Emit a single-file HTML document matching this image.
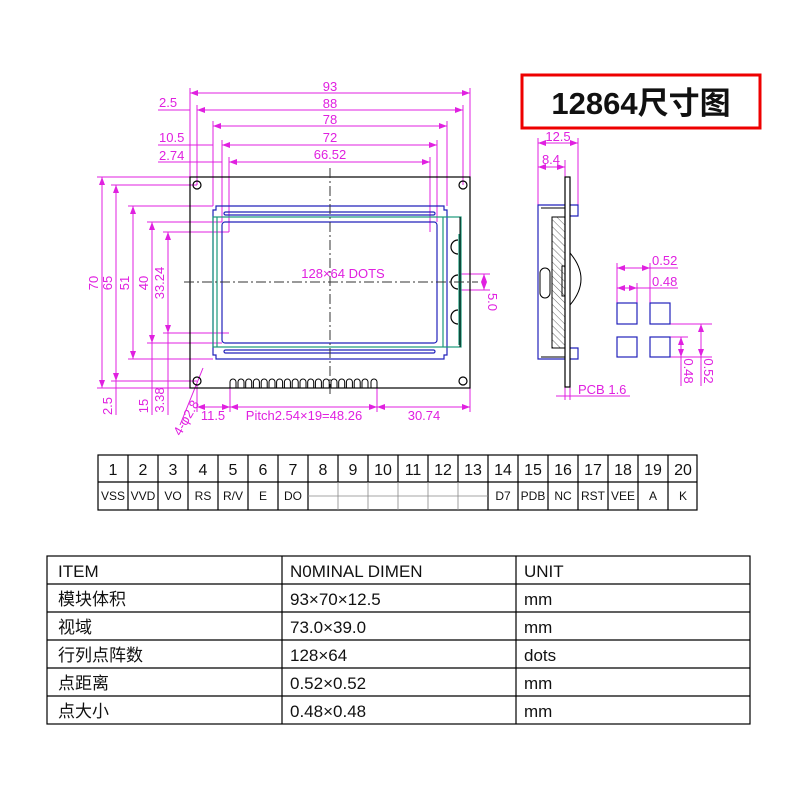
<!DOCTYPE html>
<html><head><meta charset="utf-8"><style>
body{margin:0;background:#fff;width:800px;height:800px;overflow:hidden}
svg{position:absolute;left:0;top:0}
.m{fill:#e020e0;font-family:"Liberation Sans",sans-serif;font-size:13px}
.t{font-family:"Liberation Sans","Noto Sans CJK SC",sans-serif;fill:#111}
</style></head><body>
<svg width="800" height="800" viewBox="0 0 800 800">
<defs>
<marker id="a" viewBox="0 0 8 6" refX="8" refY="3" markerWidth="8" markerHeight="6" orient="auto-start-reverse"><path d="M0,0L8,3L0,6z" fill="#e020e0"/></marker>
<pattern id="h" width="5" height="5" patternUnits="userSpaceOnUse" patternTransform="rotate(-45)"><line x1="0" y1="0" x2="0" y2="5" stroke="#444" stroke-width="0.8"/></pattern>
</defs>
<rect x="522" y="75" width="238" height="53" fill="none" stroke="#e00" stroke-width="3"/>
<text x="641" y="114" text-anchor="middle" class="t" font-size="31" font-weight="bold" fill="#000">12864尺寸图</text>

<g stroke="#e020e0" stroke-width="1" fill="none">
<line x1="190" y1="88" x2="190" y2="177"/><line x1="470" y1="88" x2="470" y2="177"/>
<line x1="190" y1="93" x2="470" y2="93" marker-start="url(#a)" marker-end="url(#a)"/>
<line x1="197" y1="105" x2="197" y2="185"/><line x1="463" y1="105" x2="463" y2="185"/>
<line x1="197" y1="110" x2="463" y2="110" marker-start="url(#a)" marker-end="url(#a)"/>
<line x1="158" y1="110" x2="190" y2="110"/>
<line x1="213" y1="121" x2="213" y2="206"/><line x1="447" y1="121" x2="447" y2="206"/>
<line x1="213" y1="126" x2="447" y2="126" marker-start="url(#a)" marker-end="url(#a)"/>
<line x1="222" y1="140" x2="222" y2="222"/><line x1="437" y1="140" x2="437" y2="222"/>
<line x1="222" y1="145" x2="437" y2="145" marker-start="url(#a)" marker-end="url(#a)"/>
<line x1="158" y1="145" x2="213" y2="145"/>
<line x1="229" y1="157" x2="229" y2="232"/><line x1="430" y1="157" x2="430" y2="232"/>
<line x1="229" y1="162" x2="430" y2="162" marker-start="url(#a)" marker-end="url(#a)"/>
<line x1="158" y1="162" x2="222" y2="162"/>
<line x1="97" y1="177" x2="190" y2="177"/><line x1="97" y1="388" x2="190" y2="388"/>
<line x1="102" y1="177" x2="102" y2="388" marker-start="url(#a)" marker-end="url(#a)"/>
<line x1="111" y1="185" x2="197" y2="185"/><line x1="111" y1="381" x2="197" y2="381"/>
<line x1="116" y1="185" x2="116" y2="381" marker-start="url(#a)" marker-end="url(#a)"/>
<line x1="116" y1="381" x2="116" y2="415"/>
<line x1="128" y1="206" x2="213" y2="206"/><line x1="128" y1="359" x2="213" y2="359"/>
<line x1="133" y1="206" x2="133" y2="359" marker-start="url(#a)" marker-end="url(#a)"/>
<line x1="147" y1="222" x2="222" y2="222"/><line x1="147" y1="343" x2="222" y2="343"/>
<line x1="152" y1="222" x2="152" y2="343" marker-start="url(#a)" marker-end="url(#a)"/>
<line x1="152" y1="343" x2="152" y2="415"/>
<line x1="163" y1="232" x2="229" y2="232"/><line x1="163" y1="333" x2="229" y2="333"/>
<line x1="168" y1="232" x2="168" y2="333" marker-start="url(#a)" marker-end="url(#a)"/>
<line x1="168" y1="333" x2="168" y2="415"/>
<line x1="197" y1="385" x2="197" y2="412"/><line x1="230" y1="388" x2="230" y2="412"/><line x1="377" y1="388" x2="377" y2="412"/><line x1="470" y1="388" x2="470" y2="412"/>
<line x1="197" y1="407" x2="230" y2="407" marker-start="url(#a)" marker-end="url(#a)"/>
<line x1="230" y1="407" x2="377" y2="407" marker-start="url(#a)" marker-end="url(#a)"/>
<line x1="377" y1="407" x2="470" y2="407" marker-start="url(#a)" marker-end="url(#a)"/>
<line x1="203" y1="368" x2="180" y2="425"/>
<line x1="460" y1="274" x2="490" y2="274"/><line x1="460" y1="290" x2="490" y2="290"/>
<line x1="484" y1="274" x2="484" y2="290" marker-start="url(#a)" marker-end="url(#a)"/>
<line x1="538" y1="138" x2="538" y2="205"/><line x1="578" y1="138" x2="578" y2="205"/><line x1="565" y1="160" x2="565" y2="177"/>
<line x1="538" y1="143" x2="578" y2="143" marker-start="url(#a)" marker-end="url(#a)"/>
<line x1="538" y1="167" x2="565" y2="167" marker-start="url(#a)" marker-end="url(#a)"/>
<line x1="565" y1="387" x2="565" y2="400"/><line x1="570" y1="387" x2="570" y2="400"/>
<line x1="556" y1="396" x2="630" y2="396"/>
<line x1="617" y1="263" x2="617" y2="303"/><line x1="650" y1="263" x2="650" y2="303"/><line x1="637" y1="283" x2="637" y2="303"/>
<line x1="617" y1="268" x2="650" y2="268" marker-start="url(#a)" marker-end="url(#a)"/>
<line x1="650" y1="268" x2="678" y2="268"/>
<line x1="617" y1="288" x2="637" y2="288" marker-start="url(#a)" marker-end="url(#a)"/>
<line x1="637" y1="288" x2="678" y2="288"/>
<line x1="670" y1="324" x2="712" y2="324"/><line x1="670" y1="357" x2="712" y2="357"/><line x1="670" y1="337" x2="688" y2="337"/>
<line x1="701" y1="324" x2="701" y2="386" /><line x1="681" y1="337" x2="681" y2="386"/>
<line x1="701" y1="324" x2="701" y2="357" marker-start="url(#a)" marker-end="url(#a)"/>
<line x1="681" y1="337" x2="681" y2="357" marker-start="url(#a)" marker-end="url(#a)"/>
</g>

<rect x="190" y="177" width="280" height="211" fill="none" stroke="#000" stroke-width="1.2"/>
<g fill="none" stroke="#000" stroke-width="1.2">
<circle cx="197" cy="185" r="4"/><circle cx="463" cy="185" r="4"/><circle cx="197" cy="381" r="4"/><circle cx="463" cy="381" r="4"/>
</g>
<g fill="none" stroke="#22b" stroke-width="1.2">
<path d="M216,206H444V210H447V355H444V359H216V355H213V210H216Z"/>
<rect x="222" y="222" width="215" height="121" rx="3"/>
<rect x="224" y="212" width="211" height="3" rx="1.5"/>
<rect x="224" y="350" width="211" height="3" rx="1.5"/>
</g>
<g fill="none" stroke="#1a9a7a" stroke-width="1.2">
<rect x="213" y="217" width="248" height="130"/>
<line x1="217" y1="217" x2="217" y2="347"/>
<line x1="443" y1="217" x2="443" y2="347"/>
<line x1="459" y1="234" x2="459" y2="345"/>
</g>
<line x1="460" y1="217" x2="460" y2="347" stroke="#000"/>
<g fill="none" stroke="#000" stroke-width="1.2">
<path d="M458,240a7,7 0 0 0 0,14"/><path d="M458,275a7,7 0 0 0 0,14"/><path d="M458,310a7,7 0 0 0 0,14"/>
</g>
<line x1="330" y1="168" x2="330" y2="395" stroke="#333" stroke-dasharray="10,3,2,3"/>
<line x1="184" y1="282" x2="478" y2="282" stroke="#333" stroke-dasharray="10,3,2,3"/>
<g fill="none" stroke="#000" stroke-width="1">
<path d="M230,388v-6a3,3 0 0 1 6,0v6 M238,388v-6a3,3 0 0 1 6,0v6 M245.7,388v-6a3,3 0 0 1 6,0v6 M253.4,388v-6a3,3 0 0 1 6,0v6 M261.2,388v-6a3,3 0 0 1 6,0v6 M269,388v-6a3,3 0 0 1 6,0v6 M276.6,388v-6a3,3 0 0 1 6,0v6 M284.4,388v-6a3,3 0 0 1 6,0v6 M292.2,388v-6a3,3 0 0 1 6,0v6 M300,388v-6a3,3 0 0 1 6,0v6 M307.7,388v-6a3,3 0 0 1 6,0v6 M315.4,388v-6a3,3 0 0 1 6,0v6 M323.2,388v-6a3,3 0 0 1 6,0v6 M331,388v-6a3,3 0 0 1 6,0v6 M338.7,388v-6a3,3 0 0 1 6,0v6 M346.4,388v-6a3,3 0 0 1 6,0v6 M354.2,388v-6a3,3 0 0 1 6,0v6 M362,388v-6a3,3 0 0 1 6,0v6 M371,388v-6a3,3 0 0 1 6,0v6"/>
</g>

<text class="m" x="330" y="91" text-anchor="middle">93</text>
<text class="m" x="330" y="108" text-anchor="middle">88</text>
<text class="m" x="330" y="124" text-anchor="middle">78</text>
<text class="m" x="330" y="142" text-anchor="middle">72</text>
<text class="m" x="330" y="159" text-anchor="middle">66.52</text>
<text class="m" x="159" y="107">2.5</text>
<text class="m" x="159" y="142">10.5</text>
<text class="m" x="159" y="160">2.74</text>
<text class="m" x="343" y="278" text-anchor="middle" font-size="16">128×64  DOTS</text>
<text class="m" x="98" y="283" transform="rotate(-90 98 283)" text-anchor="middle">70</text>
<text class="m" x="112" y="283" transform="rotate(-90 112 283)" text-anchor="middle">65</text>
<text class="m" x="129" y="283" transform="rotate(-90 129 283)" text-anchor="middle">51</text>
<text class="m" x="148" y="283" transform="rotate(-90 148 283)" text-anchor="middle">40</text>
<text class="m" x="164" y="283" transform="rotate(-90 164 283)" text-anchor="middle">33.24</text>
<text class="m" x="112" y="406" transform="rotate(-90 112 406)" text-anchor="middle">2.5</text>
<text class="m" x="148" y="406" transform="rotate(-90 148 406)" text-anchor="middle">15</text>
<text class="m" x="164" y="400" transform="rotate(-90 164 400)" text-anchor="middle">3.38</text>
<text class="m" x="190" y="420" transform="rotate(-60 190 420)" text-anchor="middle">4-φ2.8</text>
<text class="m" x="213" y="420" text-anchor="middle">11.5</text>
<text class="m" x="304" y="420" text-anchor="middle">Pitch2.54×19=48.26</text>
<text class="m" x="424" y="420" text-anchor="middle">30.74</text>
<text class="m" x="488" y="302" transform="rotate(90 488 302)" text-anchor="middle">5.0</text>

<path d="M565,205H538V359H565 M570,205H578V216H570 M570,348H578V359H570" fill="none" stroke="#22b" stroke-width="1.2"/>
<rect x="552" y="217" width="13" height="131" fill="url(#h)" stroke="#000"/>
<line x1="541" y1="208" x2="565" y2="208" stroke="#000"/><line x1="541" y1="357" x2="565" y2="357" stroke="#000"/>
<rect x="540" y="268" width="10" height="30" rx="5" fill="none" stroke="#000"/>
<rect x="562" y="266" width="3" height="30" fill="none" stroke="#000"/>
<path d="M570,253Q592,279 570,305" fill="none" stroke="#000"/>
<rect x="565" y="177" width="5" height="210" fill="#fff" stroke="#000" stroke-width="1.2"/>
<text class="m" x="558" y="141" text-anchor="middle">12.5</text>
<text class="m" x="551" y="164" text-anchor="middle">8.4</text>
<text class="m" x="578" y="394">PCB  1.6</text>
<g fill="none" stroke="#22b" stroke-width="1.2">
<rect x="617" y="303" width="20" height="21"/><rect x="650" y="303" width="20" height="21"/>
<rect x="617" y="337" width="20" height="20"/><rect x="650" y="337" width="20" height="20"/>
</g>
<text class="m" x="652" y="265">0.52</text>
<text class="m" x="652" y="286">0.48</text>
<text class="m" x="684" y="371" transform="rotate(90 684 371)" text-anchor="middle">0.48</text>
<text class="m" x="704" y="371" transform="rotate(90 704 371)" text-anchor="middle">0.52</text>

<g stroke="#000" stroke-width="1.2" fill="none">
<rect x="98" y="455" width="599" height="55"/>
<line x1="98" y1="482" x2="697" y2="482"/>
<line x1="128" y1="455" x2="128" y2="510"/><line x1="158" y1="455" x2="158" y2="510"/><line x1="188" y1="455" x2="188" y2="510"/><line x1="218" y1="455" x2="218" y2="510"/><line x1="248" y1="455" x2="248" y2="510"/><line x1="278" y1="455" x2="278" y2="510"/><line x1="308" y1="455" x2="308" y2="510"/>
<line x1="338" y1="455" x2="338" y2="482"/><line x1="368" y1="455" x2="368" y2="482"/><line x1="398" y1="455" x2="398" y2="482"/><line x1="428" y1="455" x2="428" y2="482"/><line x1="458" y1="455" x2="458" y2="482"/>
<line x1="488" y1="455" x2="488" y2="510"/><line x1="518" y1="455" x2="518" y2="510"/><line x1="548" y1="455" x2="548" y2="510"/><line x1="578" y1="455" x2="578" y2="510"/><line x1="608" y1="455" x2="608" y2="510"/><line x1="638" y1="455" x2="638" y2="510"/><line x1="668" y1="455" x2="668" y2="510"/>
</g>
<g stroke="#888" stroke-width="0.8">
<line x1="308" y1="496" x2="488" y2="496"/>
<line x1="338" y1="482" x2="338" y2="510"/><line x1="368" y1="482" x2="368" y2="510"/><line x1="398" y1="482" x2="398" y2="510"/><line x1="428" y1="482" x2="428" y2="510"/><line x1="458" y1="482" x2="458" y2="510"/>
</g>
<g class="t" font-size="16" text-anchor="middle">
<text x="113" y="475">1</text><text x="143" y="475">2</text><text x="173" y="475">3</text><text x="203" y="475">4</text><text x="233" y="475">5</text><text x="263" y="475">6</text><text x="293" y="475">7</text><text x="323" y="475">8</text><text x="353" y="475">9</text><text x="383" y="475">10</text><text x="413" y="475">11</text><text x="443" y="475">12</text><text x="473" y="475">13</text><text x="503" y="475">14</text><text x="533" y="475">15</text><text x="563" y="475">16</text><text x="593" y="475">17</text><text x="623" y="475">18</text><text x="653" y="475">19</text><text x="683" y="475">20</text>
</g>
<g class="t" font-size="12" text-anchor="middle">
<text x="113" y="500">VSS</text><text x="143" y="500">VVD</text><text x="173" y="500">VO</text><text x="203" y="500">RS</text><text x="233" y="500">R/V</text><text x="263" y="500">E</text><text x="293" y="500">DO</text><text x="503" y="500">D7</text><text x="533" y="500">PDB</text><text x="563" y="500">NC</text><text x="593" y="500">RST</text><text x="623" y="500">VEE</text><text x="653" y="500">A</text><text x="683" y="500">K</text>
</g>

<g stroke="#000" stroke-width="1.2" fill="none">
<rect x="47" y="556" width="703" height="168"/>
<line x1="47" y1="584" x2="750" y2="584"/><line x1="47" y1="612" x2="750" y2="612"/><line x1="47" y1="640" x2="750" y2="640"/><line x1="47" y1="668" x2="750" y2="668"/><line x1="47" y1="696" x2="750" y2="696"/>
<line x1="282" y1="556" x2="282" y2="724"/><line x1="516" y1="556" x2="516" y2="724"/>
</g>
<g class="t" font-size="17">
<text x="58" y="577">ITEM</text><text x="290" y="577">N0MINAL DIMEN</text><text x="524" y="577">UNIT</text>
<text x="58" y="605">模块体积</text><text x="290" y="605">93×70×12.5</text><text x="524" y="605">mm</text>
<text x="58" y="633">视域</text><text x="290" y="633">73.0×39.0</text><text x="524" y="633">mm</text>
<text x="58" y="661">行列点阵数</text><text x="290" y="661">128×64</text><text x="524" y="661">dots</text>
<text x="58" y="689">点距离</text><text x="290" y="689">0.52×0.52</text><text x="524" y="689">mm</text>
<text x="58" y="717">点大小</text><text x="290" y="717">0.48×0.48</text><text x="524" y="717">mm</text>
</g>
</svg>
</body></html>
